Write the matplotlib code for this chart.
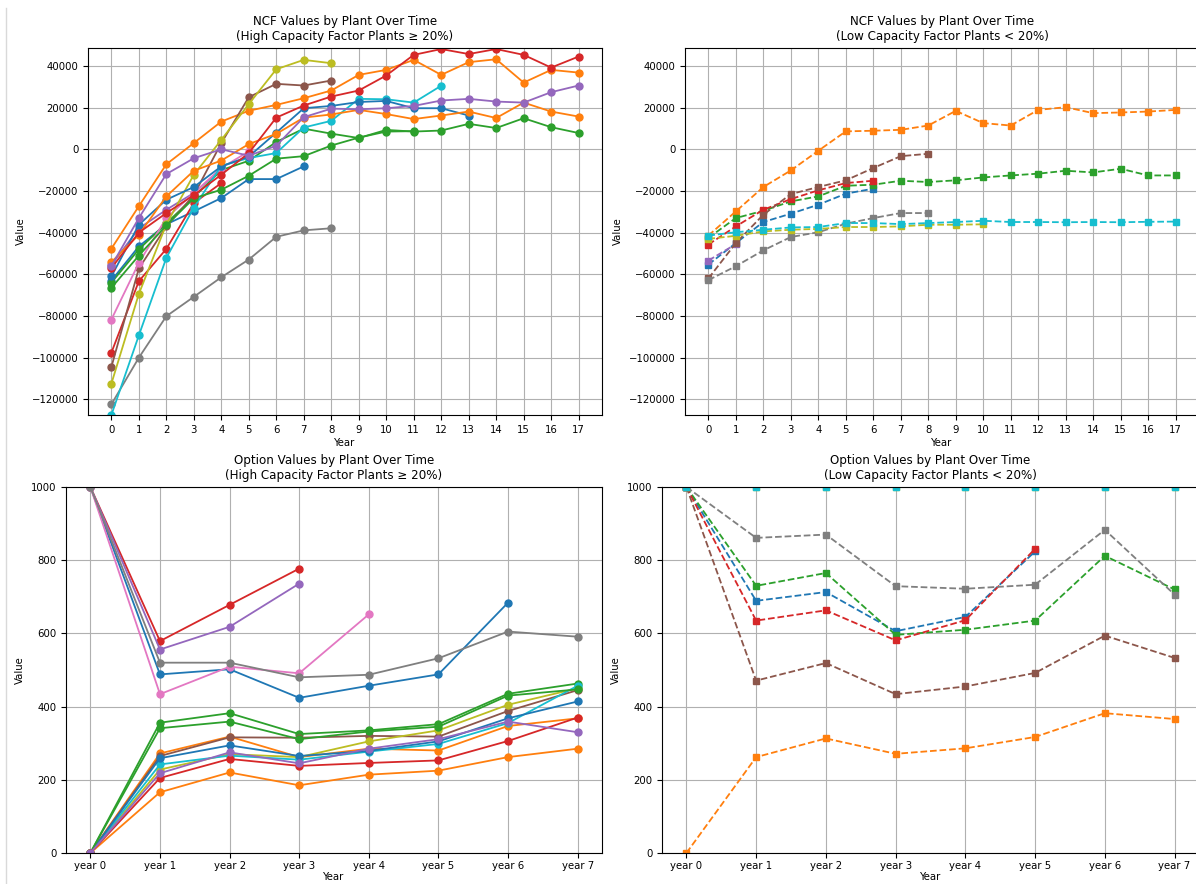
import matplotlib
matplotlib.use("Agg")
import matplotlib.pyplot as plt
from matplotlib.lines import Line2D

# ---------------- data ----------------
tab10 = ['#1f77b4', '#ff7f0e', '#2ca02c', '#d62728', '#9467bd',
         '#8c564b', '#e377c2', '#7f7f7f', '#bcbd22', '#17becf']

# High capacity factor plants: NCF values (index = year)
ncf_high_colors = [tab10[0], tab10[1], tab10[2], tab10[3], tab10[4], tab10[5], tab10[6],
                   tab10[7], tab10[8], tab10[9], tab10[0], tab10[1], tab10[2], tab10[3], tab10[4]]
ncf_high = [
    [-63000, -46600, -36000, -29800, -23400, -14300, -14300, -8200],
    [-47700, -27300, -7200, 3000, 13300, 18500, 21300, 24500, 28200, 35700, 38100, 42900, 35700, 41800, 43200, 32000, 38100, 36800],
    [-64000, -48000, -35500, -23000, -10000, -5500, 3500, 9900, 7500, 5400, 9300, 8500, 9000, 12200, 10200, 14900, 10600, 7800],
    [-97600, -63300, -47800, -25800, -16200],
    [-55500, -38000, -29000, -21000, -9500],
    [-104500, -57200, -37000, -22000, 3000, 25000, 31400, 30600, 33000],
    [-81700, -54500, -33000, -21000, -9000, -1000],
    [-122400, -100000, -80100, -70800, -61400, -52900, -42000, -38900, -37900],
    [-112500, -69400, -36000, -12200, 4500, 21700, 38400, 42900, 41300],
    [-127500, -89300, -52100, -28000, -7900, -4200, -1800, 10450, 13650, 24200, 24000, 22400, 30500],
    [-61000, -36200, -24200, -18100, -8200, -3500, 8000, 19700, 20800, 22700, 23200, 19700, 19700, 16200],
    [-54200, -41000, -22600, -10300, -5400, 2500, 7400, 15200, 16700, 18900, 16900, 14500, 16200, 18100, 15000, 22400, 18100, 15700],
    [-66500, -51000, -36500, -23500, -19400, -12700, -4500, -3300, 1800, 5600, 8500, 8700],
    [-57000, -40000, -30600, -22000, -12200, -1800, 15200, 21000, 25300, 28200, 35400, 45300, 48100, 45700, 48100, 45300, 39200, 44500],
    [-56000, -33000, -11900, -4300, 0, -3100, 1700, 15400, 19500, 19200, 19700, 20800, 23400, 24200, 22900, 22400, 27400, 30600],
]

# Low capacity factor plants: NCF values
ncf_low_colors = [tab10[0], tab10[1], tab10[2], tab10[3], tab10[4], tab10[5],
                  tab10[7], tab10[8], tab10[9]]
ncf_low = [
    [-55300, -45000, -34900, -30900, -26600, -21300, -18900],
    [-41400, -29800, -18100, -10150, -700, 8600, 8900, 9340, 11400, 18440, 12550, 11400, 18900, 20200, 17340, 17660, 18100, 18900],
    [-42500, -33000, -29500, -25000, -22600, -17500, -17000, -15100, -15700, -14900, -13500, -12550, -11700, -10300, -11100, -9340, -12550, -12550],
    [-45700, -37000, -29000, -23900, -19700, -16200, -15100],
    [-53400, -45500],
    [-62000, -45000, -31400, -21500, -18100, -14900, -9000, -3300, -2150],
    [-62800, -56100, -48500, -42100, -39800, -35700, -33000, -30600, -30600],
    [-43000, -41500, -39400, -38600, -38200, -37300, -37300, -37000, -36200, -36200, -36000],
    [-41400, -39800, -38600, -37500, -37300, -35400, -35400, -35900, -35400, -34900, -34300, -34900, -34900, -35000, -34900, -35000, -34800, -34700],
]

# Option values, high capacity factor plants
opt_high = [
    [1000, 488, 502, 424, 457, 488, 684],
    [0, 272, 318, 262, 285, 280, 347, 368],
    [0, 356, 382, 325, 335, 352, 435, 463],
    [1000, 579, 678, 777],
    [1000, 556, 618, 736],
    [0, 265, 316, 315, 320, 318, 388, 445],
    [1000, 434, 509, 491, 652],
    [1000, 520, 520, 480, 487, 532, 605, 591],
    [0, 228, 270, 262, 305, 335, 405, 450],
    [0, 242, 266, 255, 277, 298, 355, 457],
    [0, 259, 294, 265, 279, 305, 368, 414],
    [0, 166, 220, 185, 214, 225, 262, 285],
    [0, 341, 359, 311, 332, 345, 430, 447],
    [0, 205, 257, 238, 246, 253, 306, 370],
    [0, 218, 275, 245, 285, 311, 359, 330],
]

# Option values, low capacity factor plants
opt_low = [
    [1000, 689, 713, 606, 645, 824],
    [0, 262, 313, 271, 286, 317, 382, 366],
    [1000, 730, 765, 596, 610, 635, 812, 720],
    [1000, 635, 663, 581, 636, 831],
    [1000],
    [1000, 471, 519, 434, 455, 492, 594, 533],
    [1000, 861, 870, 729, 722, 733, 883, 706],
    [1000, 1000, 1000, 1000, 1000, 1000, 1000, 1000],
    [1000, 1000, 1000, 1000, 1000, 1000, 1000, 1000],
]

ncf_years = list(range(18))
opt_year_labels = ['year 0', 'year 1', 'year 2', 'year 3', 'year 4', 'year 5', 'year 6', 'year 7']

titles = [
    "NCF Values by Plant Over Time\n(High Capacity Factor Plants \u2265 20%)",
    "NCF Values by Plant Over Time\n(Low Capacity Factor Plants < 20%)",
    "Option Values by Plant Over Time\n(High Capacity Factor Plants \u2265 20%)",
    "Option Values by Plant Over Time\n(Low Capacity Factor Plants < 20%)",
]

# ---------------- figure ----------------
plt.rcParams['font.family'] = ['DejaVu Sans']
plt.rcParams['font.size'] = 7.3
W, H = 1196, 884
fig = plt.figure(figsize=(W / 100, H / 100), dpi=100)
fig.patch.set_facecolor('white')


def px_axes(l, t, r, b):
    return fig.add_axes([l / W, 1 - b / H, (r - l) / W, (b - t) / H])


ax_tl = px_axes(88, 48, 602, 415)
ax_tr = px_axes(685, 48, 1199, 415)
ax_bl = px_axes(66, 487, 602, 853)
ax_br = px_axes(662, 487, 1199, 853)

ncf_ylim = (-127500, 48600)

for vals, c in zip(ncf_high, ncf_high_colors):
    ax_tl.plot(ncf_years[:len(vals)], vals, marker='o', linestyle='-', color=c,
               markersize=5, linewidth=1.3)
for vals, c in zip(ncf_low, ncf_low_colors):
    ax_tr.plot(ncf_years[:len(vals)], vals, marker='s', linestyle='--', color=c,
               markersize=5, linewidth=1.3)

for ax, title in zip([ax_tl, ax_tr], titles[:2]):
    ax.set_xticks(ncf_years)
    ax.set_yticks(range(-120000, 40001, 20000))
    ax.set_ylim(*ncf_ylim)
    ax.set_title(title, fontsize=8.6)
    ax.set_xlabel('Year', labelpad=2)
    ax.set_ylabel('Value')
    ax.grid(True)

for vals, c in zip(opt_high, ncf_high_colors):
    ax_bl.plot(opt_year_labels[:len(vals)], vals, marker='o', linestyle='-', color=c,
               markersize=5, linewidth=1.3)
for vals, c in zip(opt_low, ncf_low_colors):
    ax_br.plot(opt_year_labels[:len(vals)], vals, marker='s', linestyle='--', color=c,
               markersize=5, linewidth=1.3)

for ax, title in zip([ax_bl, ax_br], titles[2:]):
    ax.set_ylim(0, 1000)
    ax.set_xlim(-0.35, 7.35)
    ax.set_yticks(range(0, 1001, 200))
    ax.tick_params(axis='x', pad=2.5)
    ax.set_title(title, fontsize=8.6)
    ax.set_xlabel('Year', labelpad=0.5)
    ax.set_ylabel('Value')
    ax.grid(True)

# notebook frame line on the left
fig.add_artist(Line2D([6 / W, 6 / W], [0, 1 - 8 / H], color='#d9d9d9', linewidth=1.0))

fig.savefig('out.png', dpi=100, facecolor='white')
